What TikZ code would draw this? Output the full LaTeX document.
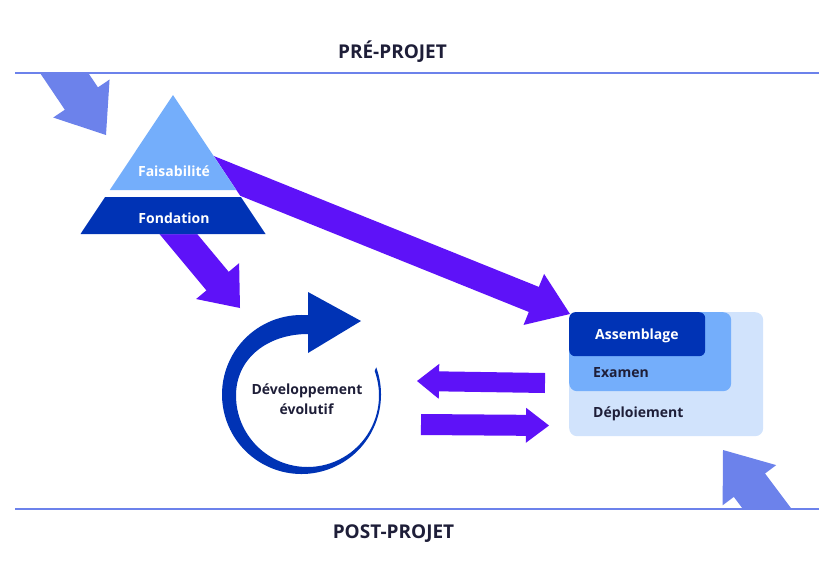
\documentclass[tikz,border=0pt]{standalone}
\usepackage{fontspec}
\setmainfont{Open Sans}
\usetikzlibrary{calc}
\definecolor{navy}{HTML}{1E1E38}
\definecolor{lineblue}{HTML}{6C82EB}
\definecolor{purp}{HTML}{5E12F8}
\definecolor{dblue}{HTML}{0033B5}
\definecolor{lblue}{HTML}{74AEFB}
\definecolor{pblue}{HTML}{D1E3FC}
% #1 style, #2 start, #3 tip, #4 shaft half width, #5 head half width, #6 head length
\newcommand\fatarrow[6]{%
  \coordinate (fa-h) at ($(#3)!#6!(#2)$);
  \fill[#1] ($(#2)!#4!90:(#3)$) -- ($(fa-h)!#4!-90:(#2)$) -- ($(fa-h)!#5!-90:(#2)$)
    -- (#3) -- ($(fa-h)!#5!90:(#2)$) -- ($(fa-h)!#4!90:(#2)$) -- ($(#2)!#4!-90:(#3)$) -- cycle;
}
\begin{document}
\begin{tikzpicture}[x=1pt,y=-1pt,
  titletext/.style={font=\bfseries\fontsize{19}{22}\selectfont, text=navy, inner sep=0},
  whitelabel/.style={font=\bfseries\fontsize{14}{17}\selectfont, text=white, inner sep=0},
  darklabel/.style={font=\bfseries\fontsize{14}{17}\selectfont, text=navy, inner sep=0},
  bigarrow/.style={fill=purp},
  sidearrow/.style={fill=lineblue},
  rule/.style={draw=lineblue, line width=2.2pt},
  panel/.style={inner sep=0, anchor=north west},
]
\useasboundingbox (0,0) rectangle (835,565);

% big purple arrows from the pyramid
\coordinate (a1s) at (195,163); \coordinate (a1t) at (570,314);
\fatarrow{bigarrow}{a1s}{a1t}{13.5pt}{27.5pt}{39pt}
\coordinate (a2s) at (150,200); \coordinate (a2t) at (240,308);
\fatarrow{bigarrow}{a2s}{a2t}{14.5pt}{28pt}{35pt}

% pyramid
\fill[white] (173,95) -- (265.5,234) -- (80.5,234) -- cycle;
\fill[lblue] (173,95) -- (236.2,190) -- (109.8,190) -- cycle;
\fill[dblue] (105.1,197) -- (240.9,197) -- (265.5,234) -- (80.5,234) -- cycle;
\node[whitelabel, anchor=base] (feas) at (174,176) {Faisabilité};
\node[whitelabel, anchor=base] (fond) at (174,223) {Fondation};

% rules and titles
\coordinate (tl0) at (15,73); \coordinate (tl1) at (819,73);
\coordinate (bl0) at (15,509); \coordinate (bl1) at (819,509);
\draw[rule] (tl0) -- (tl1);
\draw[rule] (bl0) -- (bl1);
\node[titletext, anchor=base] (pre) at (392.5,58.3) {PRÉ-PROJET};
\node[titletext, anchor=base] (post) at (393.5,538) {POST-PROJET};

% entering / leaving arrows
\begin{scope}
  \clip (0,73) rectangle (835,565);
  \coordinate (a3s) at (50,52); \coordinate (a3t) at (106,135);
  \fatarrow{sidearrow}{a3s}{a3t}{20pt}{34pt}{44pt}
\end{scope}
\begin{scope}
  \clip (0,0) rectangle (835,509);
  \coordinate (a6s) at (783,530); \coordinate (a6t) at (723,450);
  \fatarrow{sidearrow}{a6s}{a6t}{19.5pt}{33.5pt}{44pt}
\end{scope}

% evolutive development cycle
\fill[dblue] (376.2,367.3) arc[start angle=-20, end angle=270, radius=79.5]
  -- (308,315.2) -- (308,292) -- (361,321) -- (308,353) -- (308,334)
  .. controls (268,334) and (236,358) .. (236,395.5)
  arc[start angle=180, end angle=-20, radius=71.5] -- cycle;
\node[darklabel, anchor=base] (dev1) at (307,394.5) {Développement};
\node[darklabel, anchor=base] (dev2) at (306.5,414) {évolutif};

% nested panels
\node[panel, fill=pblue, rounded corners=8pt, minimum width=194pt, minimum height=124pt] (deploy) at (569,312) {};
\node[panel, fill=lblue, rounded corners=8pt, minimum width=162pt, minimum height=79pt] (exam) at (569,312) {};
\node[panel, fill=dblue, rounded corners=6pt, minimum width=136pt, minimum height=44pt] (assem) at (569,312) {};
\node[whitelabel, anchor=base west] (assemt) at (595,339.3) {Assemblage};
\node[darklabel, anchor=base west] (examt) at (593,377.7) {Examen};
\node[darklabel, anchor=base west] (deployt) at (593,417.3) {Déploiement};

% exchange arrows
\coordinate (a4s) at (545,383); \coordinate (a4t) at (417,381);
\fatarrow{bigarrow}{a4s}{a4t}{10pt}{17.5pt}{22pt}
\coordinate (a5s) at (421,424.5); \coordinate (a5t) at (549,425.5);
\fatarrow{bigarrow}{a5s}{a5t}{10.5pt}{17.5pt}{23pt}
\end{tikzpicture}
\end{document}
